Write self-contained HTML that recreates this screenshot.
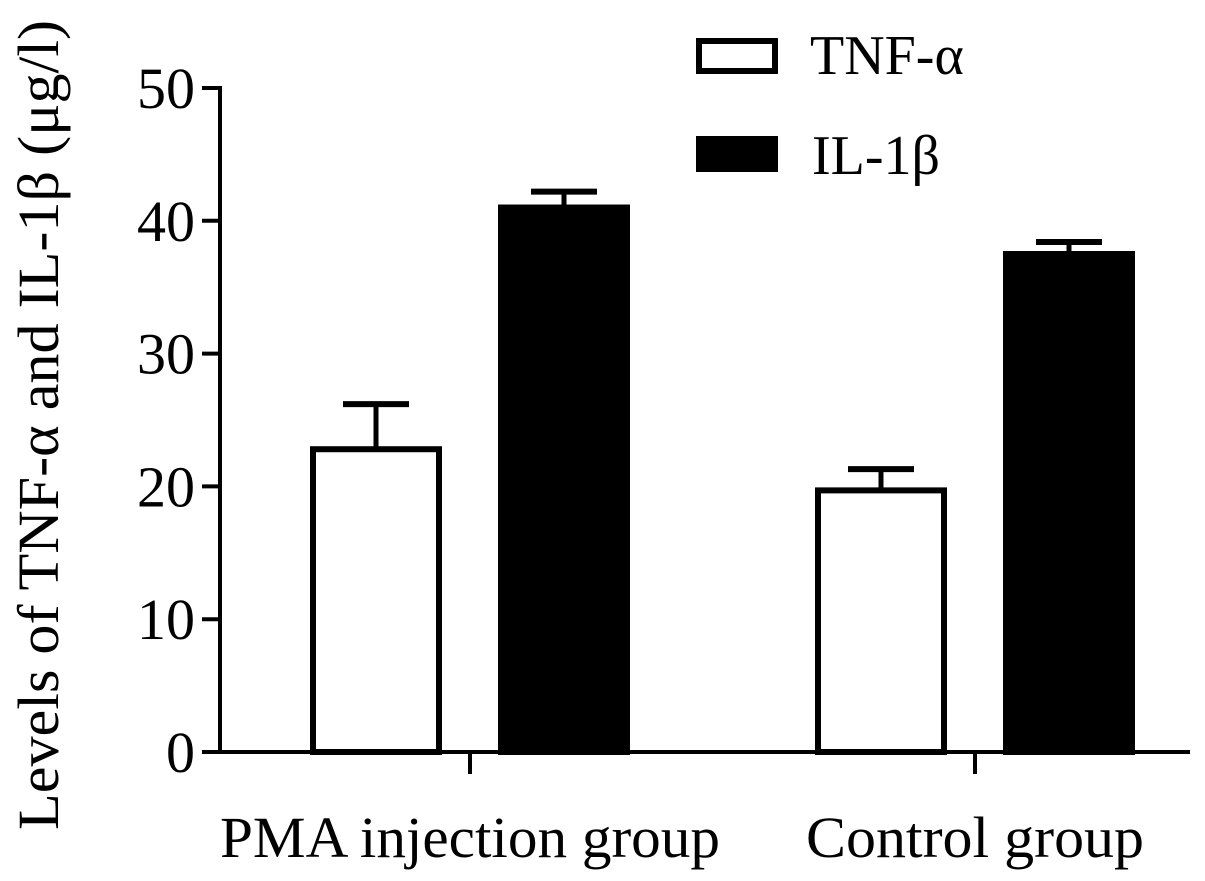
<!DOCTYPE html>
<html><head><meta charset="utf-8"><style>
html,body{margin:0;padding:0;background:#fff;}
svg text{font-family:"Liberation Serif",serif;fill:#000;}
</style></head><body>
<svg id="chart" width="1205" height="876" viewBox="0 0 1205 876" xmlns="http://www.w3.org/2000/svg">
<g id="plot"></g>
<text transform="translate(58,425) rotate(-90)" text-anchor="middle" font-size="58" textLength="810" lengthAdjust="spacingAndGlyphs">Levels of TNF-α and IL-1β (μg/l)</text>
<g>
<rect x="699" y="41" width="76" height="30" fill="#fff" stroke="#000" stroke-width="6"/>
<text x="810" y="74" font-size="56">TNF-α</text>
<rect x="696" y="136" width="82" height="36" fill="#000"/>
<text x="812" y="174" font-size="56">IL-1β</text>
</g>
</svg>
<script>
const categories=["PMA injection group","Control group"];
const tnfValues=[22.8,19.7];
const tnfErrors=[3.4,1.6];
const il1bValues=[41.0,37.5];
const il1bErrors=[1.2,0.9];
const yTicks=[0,10,20,30,40,50];
const NS="http://www.w3.org/2000/svg";
const g=document.getElementById('plot');
const x0=220,x1=1190,yBase=752,yTop=88;
function y(v){return yBase-(v/50)*(yBase-yTop);}
const groupCenters=[470,975];
const labelWidths=[500,338];
function mk(tag,attrs){const e=document.createElementNS(NS,tag);for(const k in attrs)e.setAttribute(k,attrs[k]);g.appendChild(e);return e;}
let e=mk('line',{x1:x0,y1:y(50)-2,x2:x0,y2:yBase+2,stroke:'#000','stroke-width':4});


e=mk('line',{x1:x0-2,y1:yBase,x2:x1,y2:yBase,stroke:'#000','stroke-width':4});


yTicks.forEach(t=>{
 let l=mk('line',{x1:x0-18,y1:y(t),x2:x0,y2:y(t),stroke:'#000','stroke-width':4});
 
 
 let tx=mk('text',{x:x0-25,y:y(t)+20,'text-anchor':'end','font-size':58});
 tx.textContent=t;
 
 
});
const bw=132,off=94;
categories.forEach((c,i)=>{
 const cx=groupCenters[i];
 let l=mk('line',{x1:cx,y1:yBase,x2:cx,y2:yBase+22,stroke:'#000','stroke-width':4});
 
 
 let tx=mk('text',{x:cx,y:857,'text-anchor':'middle','font-size':58,textLength:labelWidths[i],lengthAdjust:'spacingAndGlyphs'});
 tx.textContent=c;
 
 
 [[tnfValues,tnfErrors,-off,'#fff','tnf'],[il1bValues,il1bErrors,off,'#000','il1b']].forEach(([vals,errs,o,fill,nm])=>{
  const bx=cx+o;
  const top=y(vals[i]+errs[i]);
  let el=mk('line',{x1:bx,y1:y(vals[i]),x2:bx,y2:top,stroke:'#000','stroke-width':5});
  
  
  el=mk('line',{x1:bx-33,y1:top,x2:bx+33,y2:top,stroke:'#000','stroke-width':6});
  
  
  let r=mk('rect',{x:bx-bw/2+3,y:y(vals[i]),width:bw-6,height:yBase-y(vals[i]),fill:fill,stroke:'#000','stroke-width':6});
  
  
 });
});
</script>
</body></html>
